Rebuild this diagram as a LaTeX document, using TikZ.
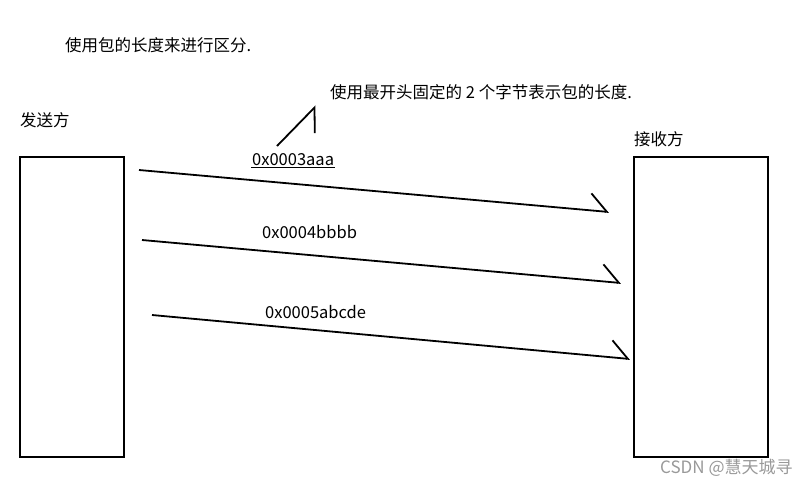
\documentclass[tikz,border=0pt]{standalone}
\usepackage{fontspec}
\setmainfont{Noto Sans CJK SC}
\usetikzlibrary{arrows.meta,positioning}

\begin{document}
\begin{tikzpicture}[
    x=1pt, y=-1pt,
    txt/.style={font=\fontsize{16.5}{19}\selectfont, inner sep=0pt, anchor=west},
    ulabel/.style={font=\fontsize{16.5}{19}\selectfont, inner sep=1pt, anchor=west},
    side/.style={draw, line width=1.8pt, minimum width=104pt, minimum height=300pt, inner sep=0pt},
    msg/.style={line width=1.8pt, -{Straight Barb[left, length=17pt, width=34pt, line width=1.8pt]}},
    hint/.style={line width=1.8pt, -{Straight Barb[right, length=18pt, width=36pt, line width=1.8pt]}}
]
\useasboundingbox (0,0) rectangle (810,488);

% Titles
\node[txt] (title) at (65,45) {使用包的长度来进行区分.};
\node[txt] (note) at (330,92) {使用最开头固定的 2 个字节表示包的长度.};

% Sender and receiver
\node[txt] (sndlbl) at (20,120) {发送方};
\node[side] (snd) at (72,307) {};
\node[txt] (rcvlbl) at (634,139) {接收方};
\node[side, minimum width=134pt] (rcv) at (701,307) {};

% Packets
\coordinate (m1s) at (139,170);
\coordinate (m1e) at (609,212);
\coordinate (m2s) at (142,240);
\coordinate (m2e) at (621,283);
\coordinate (m3s) at (152,315);
\coordinate (m3e) at (630,359);
\draw[msg] (m1s) -- (m1e);
\draw[msg] (m2s) -- (m2e);
\draw[msg] (m3s) -- (m3e);

\node[ulabel] (p1) at (251,160) {0x0003aaa};
\draw[line width=1.2pt] (p1.south west) -- (p1.south east);
\node[txt] (p2) at (262,232) {0x0004bbbb};
\node[txt] (p3) at (265,312) {0x0005abcde};

% Pointer to the length field
\coordinate (hs) at (277,146);
\coordinate (he) at (316,106);
\draw[hint] (hs) -- (he);

% Watermark
\node[txt, text=gray!80, font=\fontsize{17}{19}\selectfont] (wm) at (660,468) {CSDN @慧天城寻};
\end{tikzpicture}
\end{document}
